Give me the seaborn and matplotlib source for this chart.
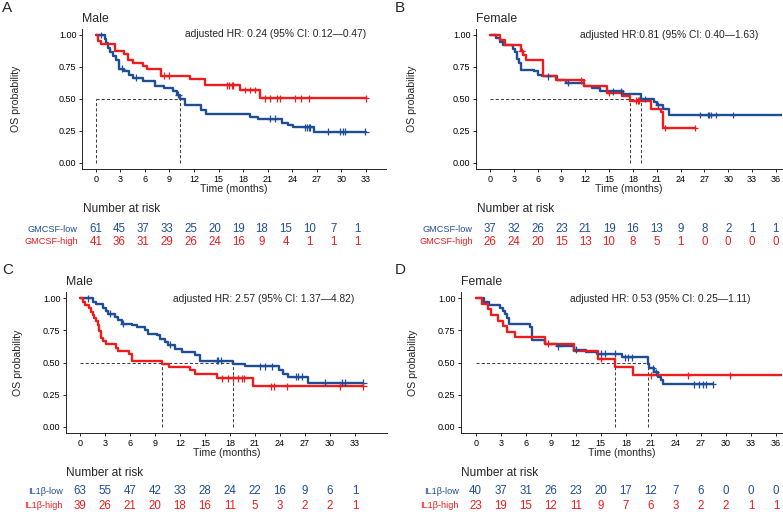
import numpy as np
import pandas as pd
import matplotlib
matplotlib.use("Agg")
import matplotlib.pyplot as plt
import seaborn as sns

# ---------------- values ----------------
# A: Male, GMCSF
a_low_t = [0, 1.1, 1.3, 1.5, 1.7, 2.1, 2.5, 2.9, 3.5, 4.1, 4.6, 5.8, 7.2, 8.4, 9.4, 9.9,
           10.3, 10.9, 12.9, 13.5, 18.8, 19.8, 22.7, 23.5, 24.1, 26.6]
a_low_s = [1.0, 0.967, 0.934, 0.902, 0.869, 0.836, 0.803, 0.737, 0.721, 0.688, 0.665, 0.638,
           0.605, 0.585, 0.56, 0.534, 0.50, 0.45, 0.415, 0.38, 0.36, 0.345, 0.315, 0.297, 0.28, 0.245]
a_low_end = 33.0
a_low_cens = [0.7, 3.2, 4.9, 10.1, 21.3, 21.9, 25.6, 25.8, 26.0, 26.2, 28.4, 29.8, 30.2, 30.4, 32.9]
a_high_t = [0, 0.3, 0.6, 2.3, 3.5, 4.0, 4.5, 5.8, 6.3, 8.0, 11.5, 13.3, 17.6, 20.1]
a_high_s = [1.0, 0.951, 0.927, 0.878, 0.854, 0.805, 0.780, 0.756, 0.732, 0.683, 0.659, 0.607, 0.570, 0.507]
a_high_end = 33.0
a_high_cens = [8.3, 8.9, 16.0, 16.3, 16.6, 16.8, 18.2, 18.9, 19.4, 20.7, 21.3, 22.2, 22.5,
               24.3, 25.1, 26.0, 33.0]
a_risk_low = [61, 45, 37, 33, 25, 20, 19, 18, 15, 10, 7, 1]
a_risk_high = [41, 36, 31, 29, 26, 24, 16, 9, 4, 1, 1, 1]

# B: Female, GMCSF
b_low_t = [0, 0.8, 1.3, 1.6, 2.9, 3.2, 3.4, 3.6, 3.9, 5.6, 6.0, 6.5, 8.4, 9.6, 11.8, 12.8,
           13.8, 16.8, 19.0, 20.6, 21.0, 21.8, 22.6]
b_low_s = [1.0, 0.973, 0.946, 0.919, 0.892, 0.865, 0.811, 0.784, 0.730, 0.716, 0.69, 0.677,
           0.65, 0.625, 0.60, 0.586, 0.56, 0.539, 0.50, 0.475, 0.453, 0.424, 0.375]
b_low_end = 37.5
b_low_cens = [7.3, 9.8, 15.5, 16.5, 19.5, 21.2, 26.5, 27.4, 27.6, 27.8, 28.5, 30.6]
b_high_t = [0, 1.2, 1.9, 3.9, 4.2, 4.5, 6.7, 8.3, 11.9, 14.7, 16.6, 17.6, 20.3, 21.5, 21.8]
b_high_s = [1.0, 0.962, 0.923, 0.872, 0.846, 0.807, 0.677, 0.645, 0.60, 0.547, 0.52, 0.487,
            0.42, 0.40, 0.273]
b_high_end = 25.8
b_high_cens = [4.0, 11.5, 15.0, 18.4, 18.6, 18.8, 22.1, 25.8]
b_risk_low = [37, 32, 26, 23, 21, 19, 16, 13, 9, 8, 2, 1, 1]
b_risk_high = [26, 24, 20, 15, 13, 10, 8, 5, 1, 0, 0, 0, 0]

# C: Male, IL1b
c_low_t = [0, 1.5, 1.9, 2.7, 3.1, 3.4, 4.2, 4.6, 5.0, 6.2, 6.8, 7.8, 8.2, 9.2, 9.6, 10.2,
           10.6, 11.4, 12.2, 13.8, 14.4, 18.4, 19.8, 23.9, 24.4, 24.9, 27.3]
c_low_s = [1.0, 0.968, 0.952, 0.921, 0.905, 0.88, 0.854, 0.828, 0.802, 0.789, 0.776, 0.75,
           0.724, 0.711, 0.685, 0.66, 0.639, 0.608, 0.582, 0.556, 0.513, 0.491, 0.47, 0.44,
           0.414, 0.388, 0.343]
c_low_end = 34.0
c_low_cens = [0.9, 3.6, 5.2, 10.8, 16.4, 16.6, 16.9, 21.6, 22.2, 23.0, 25.9, 26.2, 26.6,
              29.4, 31.4, 31.8, 34.0]
c_high_t = [0, 0.4, 0.6, 1.1, 1.3, 1.5, 1.7, 1.9, 2.1, 2.3, 2.5, 2.7, 3.1, 4.3, 4.6, 5.9,
            6.2, 9.8, 10.7, 13.2, 13.8, 16.4, 20.8]
c_high_s = [1.0, 0.974, 0.949, 0.923, 0.897, 0.872, 0.846, 0.821, 0.795, 0.744, 0.692, 0.667,
            0.641, 0.615, 0.590, 0.564, 0.513, 0.49, 0.463, 0.44, 0.412, 0.378, 0.315]
c_high_end = 34.0
c_high_cens = [17.0, 17.8, 18.4, 19.0, 19.4, 19.7, 22.9, 23.3, 24.8, 31.2, 34.0]
c_risk_low = [63, 55, 47, 42, 33, 28, 24, 22, 16, 9, 6, 1]
c_risk_high = [39, 26, 21, 20, 18, 16, 11, 5, 3, 2, 2, 1]

# D: Female, IL1b
d_low_t = [0, 1.0, 1.6, 2.9, 3.3, 3.5, 3.7, 4.0, 6.5, 6.7, 8.3, 9.7, 11.8, 13.2, 14.5, 17.5,
           20.6, 20.8, 21.4, 21.8, 22.2, 22.5]
d_low_s = [1.0, 0.975, 0.95, 0.925, 0.90, 0.875, 0.85, 0.80, 0.775, 0.675, 0.645, 0.625,
           0.60, 0.585, 0.57, 0.54, 0.49, 0.455, 0.425, 0.39, 0.36, 0.33]
d_low_end = 28.4
d_low_cens = [9.9, 12.0, 15.0, 15.5, 16.7, 17.9, 18.3, 18.7, 21.2, 21.6, 26.2, 26.8, 27.2,
              27.6, 28.4]
d_high_t = [0, 0.7, 1.5, 1.8, 2.7, 3.3, 3.7, 4.7, 8.3, 11.8, 14.7, 16.7, 18.9]
d_high_s = [1.0, 0.957, 0.913, 0.870, 0.826, 0.783, 0.739, 0.696, 0.645, 0.586, 0.527, 0.465, 0.399]
d_high_end = 37.5
d_high_cens = [8.7, 15.0, 21.0, 25.5, 30.5]
d_risk_low = [40, 37, 31, 26, 23, 20, 17, 12, 7, 6, 0, 0, 0]
d_risk_high = [23, 19, 15, 12, 11, 9, 7, 6, 3, 2, 2, 1, 1]

ticks_33 = list(range(0, 34, 3))
ticks_36 = list(range(0, 37, 3))

# ---------------- style ----------------
sns.set_theme(style="ticks")
plt.rcParams["font.family"] = ["Liberation Sans", "DejaVu Sans"]
plt.rcParams["axes.linewidth"] = 0.7

W, H = 783, 512
BLUE = "#1f4e96"
RED = "#ee1c1c"

fig = plt.figure(figsize=(W / 100, H / 100), dpi=100)


def box(l, t, r, b):
    return [l / W, 1 - b / H, (r - l) / W, (b - t) / H]


def curve(t, s, end, name):
    return pd.DataFrame({"time": list(t) + [end], "surv": list(s) + [s[-1]], "group": name})


def censored(t, s, ct, name):
    idx = np.searchsorted(t, ct, side="right") - 1
    return pd.DataFrame({"time": ct, "surv": np.asarray(s)[idx], "group": name})


def median(t, s):
    return np.asarray(t)[np.argmax(np.asarray(s) <= 0.5)]


panels = [
    dict(letter="A", title="Male", hr="adjusted HR: 0.24 (95% CI: 0.12\u20140.47)",
         low=(a_low_t, a_low_s, a_low_end, a_low_cens), high=(a_high_t, a_high_s, a_high_end, a_high_cens),
         names=("GMCSF-low", "GMCSF-high"), risk=(a_risk_low, a_risk_high), ticks=ticks_33,
         plot=(82, 28.6, 386, 169.4), xlim=(-1.67, 35.45), table=(82, 222.5, 378.4, 248.5),
         txlim=(-1.73, 35.7), letter_xy=(2, 8), hr_xy=(366, 34), lab_x=78, nar_xy=(83, 209),
         ylab=-0.2007, xlab=-0.104),
    dict(letter="B", title="Female", hr="adjusted HR:0.81 (95% CI: 0.40\u20141.63)",
         low=(b_low_t, b_low_s, b_low_end, b_low_cens), high=(b_high_t, b_high_s, b_high_end, b_high_cens),
         names=("GMCSF-low", "GMCSF-high"), risk=(b_risk_low, b_risk_high), ticks=ticks_36,
         plot=(476, 28.6, 782, 169.4), xlim=(-1.76, 36.78), table=(476, 222.5, 782, 248.5),
         txlim=(-1.76, 36.78), letter_xy=(395, 8), hr_xy=(758, 35), lab_x=473, nar_xy=(477, 209),
         ylab=-0.193, xlab=-0.105),
    dict(letter="C", title="Male", hr="adjusted HR: 2.57 (95% CI: 1.37\u20144.82)",
         low=(c_low_t, c_low_s, c_low_end, c_low_cens), high=(c_high_t, c_high_s, c_high_end, c_high_cens),
         names=("IL1\u03b2-low", "IL1\u03b2-high"), risk=(c_risk_low, c_risk_high), ticks=ticks_33,
         plot=(66, 291.9, 387, 433.1), xlim=(-1.68, 36.84), table=(66, 483.5, 387, 513.5),
         txlim=(-1.68, 36.84), letter_xy=(2, 270), hr_xy=(354, 299), lab_x=63, nar_xy=(66, 473),
         ylab=-0.134, xlab=-0.108),
    dict(letter="D", title="Female", hr="adjusted HR: 0.53 (95% CI: 0.25\u20141.11)",
         low=(d_low_t, d_low_s, d_low_end, d_low_cens), high=(d_high_t, d_high_s, d_high_end, d_high_cens),
         names=("IL1\u03b2-low", "IL1\u03b2-high"), risk=(d_risk_low, d_risk_high), ticks=ticks_36,
         plot=(461, 291.9, 782, 433.1), xlim=(-1.76, 36.72), table=(461, 483.5, 782, 513.5),
         txlim=(-1.76, 36.72), letter_xy=(395, 270), hr_xy=(750, 299), lab_x=459, nar_xy=(461, 473),
         ylab=-0.134, xlab=-0.105),
]

for p in panels:
    ax = fig.add_axes(box(*p["plot"]))
    lo_name, hi_name = p["names"]
    pal = {lo_name: BLUE, hi_name: RED}
    lines = pd.concat([curve(*p["low"][:3], lo_name), curve(*p["high"][:3], hi_name)])
    cens = pd.concat([censored(p["low"][0], p["low"][1], p["low"][3], lo_name),
                      censored(p["high"][0], p["high"][1], p["high"][3], hi_name)])

    # median survival guides
    meds = [median(*p["low"][:2]), median(*p["high"][:2])]
    ax.plot([0, max(meds)], [0.5, 0.5], ls=(0, (3, 2)), color="#404040", lw=0.75)
    for m in meds:
        ax.plot([m, m], [0, 0.5], ls=(0, (3, 2)), color="#404040", lw=0.75)

    sns.lineplot(data=lines, x="time", y="surv", hue="group", palette=pal,
                 hue_order=[lo_name, hi_name], estimator=None, sort=False,
                 drawstyle="steps-post", lw=1.7, legend=False, ax=ax)
    sns.scatterplot(data=cens, x="time", y="surv", hue="group", palette=pal,
                    hue_order=[lo_name, hi_name], marker="+", s=24, linewidth=0.9,
                    legend=False, ax=ax, zorder=3)

    ax.set_xlim(*p["xlim"])
    ax.set_ylim(-0.05, 1.05)
    ax.set_xticks(p["ticks"])
    ax.set_yticks([0, 0.25, 0.5, 0.75, 1.0])
    ax.set_yticklabels(["0.00", "0.25", "0.50", "0.75", "1.00"])
    ax.tick_params(labelsize=6.5, length=2.5, width=0.6, pad=1.5, colors="black")
    ax.set_xlabel("Time (months)", fontsize=7.6)
    ax.set_ylabel("OS probability", fontsize=7.6)
    ax.xaxis.set_label_coords(0.5, p["xlab"])
    ax.yaxis.set_label_coords(p["ylab"], 0.5)
    sns.despine(ax=ax)

    l, t, r, b = p["plot"]
    fig.text(p["letter_xy"][0] / W, 1 - p["letter_xy"][1] / H, p["letter"], fontsize=11,
             va="center", ha="left")
    fig.text(l / W, 1 - (t - 9.5) / H, p["title"], fontsize=8.8, va="center", ha="left")
    fig.text(p["hr_xy"][0] / W, 1 - p["hr_xy"][1] / H, p["hr"], fontsize=7.4,
             va="center", ha="right")

    # number-at-risk table
    tb = fig.add_axes(box(*p["table"]))
    tb.set_xlim(*p["txlim"])
    tb.set_ylim(1.5, -0.5)
    tb.axis("off")
    for row, (nums, col) in enumerate(zip(p["risk"], [BLUE, RED])):
        for tm, n in zip(p["ticks"], nums):
            tb.text(tm, row, str(n), ha="center", va="center", color=col, fontsize=8.3)
    fig.text(p["nar_xy"][0] / W, 1 - p["nar_xy"][1] / H, "Number at risk", fontsize=8.6,
             va="center", ha="left")
    tl, tt, tr, tbm = p["table"]
    row_y = [tt + (tbm - tt) * 0.25, tt + (tbm - tt) * 0.75]
    for name, yy, col in zip(p["names"], row_y, [BLUE, RED]):
        fig.text(p["lab_x"] / W, 1 - yy / H, name, fontsize=6.6, color=col,
                 va="center", ha="right")

fig.savefig("out.png", dpi=100)
